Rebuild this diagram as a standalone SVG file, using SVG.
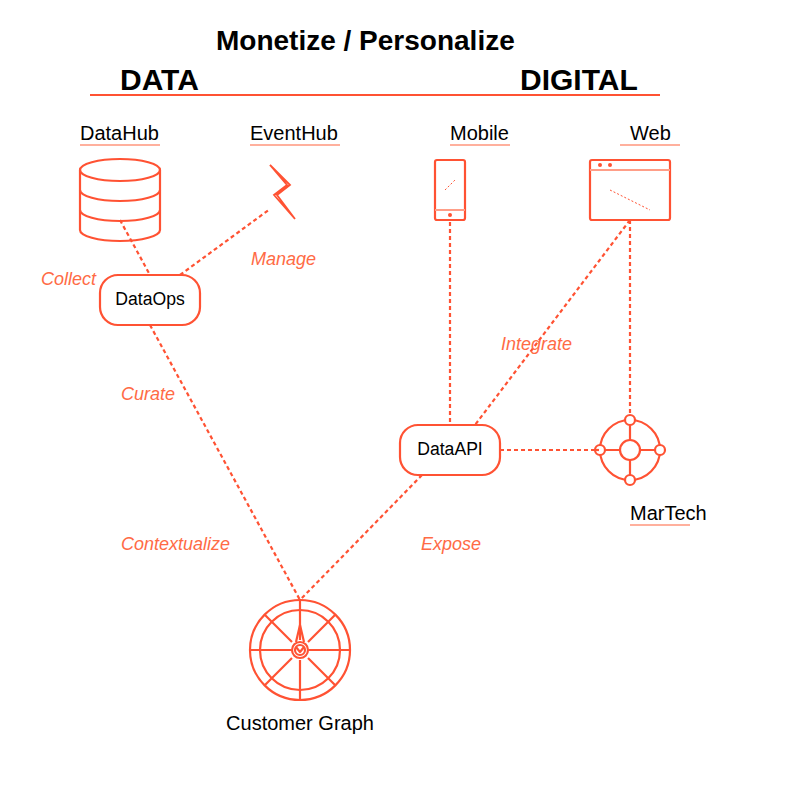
<svg xmlns="http://www.w3.org/2000/svg" width="800" height="800" viewBox="0 0 800 800">
<style>
text{font-family:"Liberation Sans",Arial,sans-serif;fill:#000}
.h{font-weight:bold;font-size:28px}
.b{font-weight:bold;font-size:30px}
.t{font-size:20px}
.n{font-size:17.6px;text-anchor:middle}
.v{font-size:18px;font-style:italic;fill:#ff6b45}
.s{fill:none;stroke:#ff5233;stroke-width:2.2;stroke-linejoin:round}
.w{fill:#fff;stroke:#ff5233;stroke-width:2.2}
.u{stroke:#ffb09d;stroke-width:2;fill:none}
.c{fill:none;stroke:#ff5233;stroke-width:2.2;stroke-dasharray:4 3}
.f{fill:none;stroke:#ff5233;stroke-width:1;stroke-dasharray:2 2}
.d{fill:#ff5233}
</style>
<rect width="800" height="800" fill="#fff"/>
<g id="titles">
<text class="h" x="216" y="50">Monetize / Personalize</text>
<text class="b" x="120" y="90">DATA</text>
<text class="b" x="520" y="90">DIGITAL</text>
<path d="M90 95H660" fill="none" stroke="#ff5233" stroke-width="2"/>
</g>
<g id="connectors">
<path class="c" d="M120 220L150 275"/>
<path class="c" d="M180 275L270 209"/>
<path class="c" d="M150 325L300 600"/>
<path class="c" d="M422 475L300 600"/>
<path class="c" d="M450 222V425"/>
<path class="c" d="M630 220L475 425"/>
<path class="c" d="M630 220V420"/>
<path class="c" d="M500 450H600"/>
</g>
<g id="datahub">
<text class="t" x="80" y="140">DataHub</text><path class="u" d="M80 145H160"/>
<path class="s" d="M80 170V230C80 236 98 241 120 241S160 236 160 230V170"/>
<ellipse class="s" cx="120" cy="170" rx="40" ry="11"/>
<path class="s" d="M80 190C80 196 98 201 120 201S160 196 160 190M80 210C80 216 98 221 120 221S160 216 160 210"/>
</g>
<g id="eventhub">
<text class="t" x="250" y="140">EventHub</text><path class="u" d="M250 145H340"/>
<path d="M270 165L290 185L277 195L295 219L274 195L287 185Z" fill="none" stroke="#ff5233" stroke-width="1.8" stroke-linejoin="miter"/>
</g>
<g id="mobile">
<text class="t" x="450" y="140">Mobile</text><path class="u" d="M450 145H510"/>
<rect class="s" x="435" y="160" width="30" height="60" rx="2"/>
<path d="M435 210H465" fill="none" stroke="#ff9e88" stroke-width="2"/>
<circle class="d" cx="450" cy="215" r="2"/>
<path class="f" d="M445 190L455 180"/>
</g>
<g id="web">
<text class="t" x="630" y="140">Web</text><path class="u" d="M620 145H680"/>
<rect class="s" x="590" y="160" width="80" height="60" rx="2"/>
<path d="M590 170H670" fill="none" stroke="#ff9e88" stroke-width="2"/>
<circle class="d" cx="600" cy="165" r="2"/><circle class="d" cx="610" cy="165" r="2"/>
<path class="f" d="M610 190L650 210"/>
</g>
<g id="dataops">
<rect class="w" x="100" y="275" width="100" height="50" rx="18"/>
<text class="n" x="150" y="305">DataOps</text>
</g>
<g id="dataapi">
<rect class="w" x="400" y="425" width="100" height="50" rx="18"/>
<text class="n" x="450" y="455">DataAPI</text>
</g>
<g id="martech">
<circle class="s" cx="630" cy="450" r="30"/>
<path class="s" d="M600 450H660M630 420V480"/>
<circle class="w" cx="630" cy="450" r="10"/>
<circle class="w" cx="630" cy="420" r="5"/>
<circle class="w" cx="630" cy="480" r="5"/>
<circle class="w" cx="660" cy="450" r="5"/>
<circle class="w" cx="600" cy="450" r="5"/>
<path class="c" d="M595 450H600"/>
<text class="t" x="630" y="520">MarTech</text><path class="u" d="M630 525H690"/>
</g>
<g id="customer-graph">
<circle class="s" cx="300" cy="650" r="50"/>
<circle class="s" cx="300" cy="650" r="40"/>
<path class="s" d="M300 600V640M300 660V700M250 650H291M309 650H350M265 615L292 642M335 615L308 642M265 685L292 658M335 685L308 658"/>
<circle class="s" cx="300" cy="650" r="8"/>
<circle class="s" cx="300" cy="650" r="5"/>
<path class="s" d="M296 642L300 625L304 642M296 647L300 652L304 647"/>
<text class="n" x="300" y="730" style="font-size:20px">Customer Graph</text>
</g>
<g id="labels">
<text class="v" x="41" y="285">Collect</text>
<text class="v" x="251" y="265">Manage</text>
<text class="v" x="121" y="400">Curate</text>
<text class="v" x="121" y="550">Contextualize</text>
<text class="v" x="501" y="350">Integrate</text>
<text class="v" x="421" y="550">Expose</text>
</g>
</svg>
